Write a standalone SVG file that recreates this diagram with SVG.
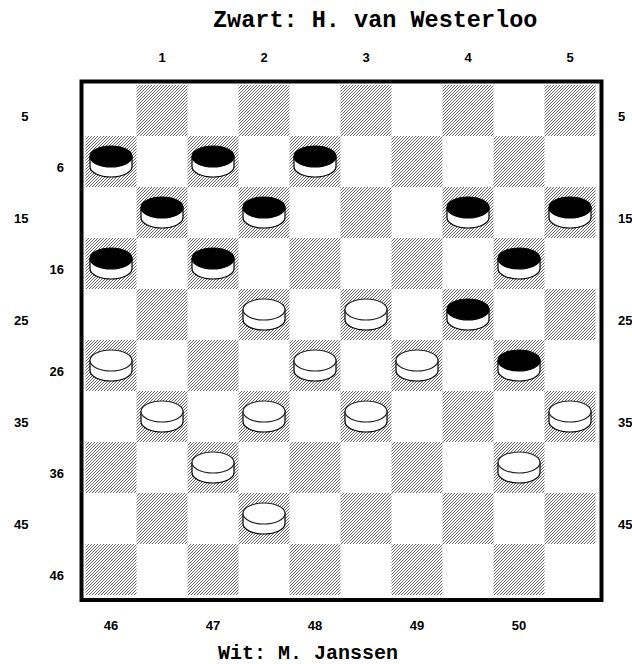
<svg xmlns="http://www.w3.org/2000/svg" xmlns:xlink="http://www.w3.org/1999/xlink" width="632" height="664" viewBox="0 0 632 664">
<style>
.lbl{font-family:"Liberation Sans",Arial,sans-serif;font-weight:bold;font-size:13px;fill:#000}
.ttl{font-family:"Liberation Mono","Courier New",monospace;font-weight:bold;fill:#000}
.dk{fill:url(#hatch)}
.side{fill:#fff;stroke:#000;stroke-width:1.2}
.topb{fill:#000;stroke:#000;stroke-width:1.2}
.topw{fill:#fff;stroke:#222;stroke-width:1.2}
</style>
<defs>
<pattern id="hatch" patternUnits="userSpaceOnUse" width="3" height="3">
<path d="M-1,1 L1,-1 M0,3 L3,0 M2,4 L4,2" stroke="#333" stroke-width="0.75"/>
</pattern>
<g id="bp">
<path class="side" d="M-21,-5 V5 A21,10.5 0 0 0 21,5 V-5 Z"/>
<ellipse class="topb" cx="0" cy="-5" rx="21" ry="10.5"/>
</g>
<g id="wp">
<path class="side" d="M-21,-5 V5 A21,10.5 0 0 0 21,5 V-5 Z"/>
<ellipse class="topw" cx="0" cy="-5" rx="21" ry="10.5"/>
</g>
</defs>
<rect width="632" height="664" fill="#fff"/>
<text class="ttl" x="213" y="27" font-size="23.5">Zwart: H. van Westerloo</text>
<text class="ttl" x="218" y="659" font-size="20">Wit: M. Janssen</text>
<g id="top-labels" class="lbl" text-anchor="middle">
<text x="162" y="62">1</text><text x="264" y="62">2</text><text x="366" y="62">3</text><text x="468" y="62">4</text><text x="570" y="62">5</text>
</g>
<g id="bottom-labels" class="lbl" text-anchor="middle">
<text x="111" y="630">46</text><text x="213" y="630">47</text><text x="315" y="630">48</text><text x="417" y="630">49</text><text x="519" y="630">50</text>
</g>
<g id="left-labels" class="lbl" text-anchor="end">
<text x="28.5" y="120.5">5</text><text x="64" y="171.5">6</text>
<text x="28.5" y="222.5">15</text><text x="64" y="273.5">16</text>
<text x="28.5" y="324.5">25</text><text x="64" y="375.5">26</text>
<text x="28.5" y="426.5">35</text><text x="64" y="477.5">36</text>
<text x="28.5" y="528.5">45</text><text x="64" y="579.5">46</text>
</g>
<g id="right-labels" class="lbl" text-anchor="start">
<text x="618" y="120.5">5</text><text x="618" y="222.5">15</text><text x="618" y="324.5">25</text><text x="618" y="426.5">35</text><text x="618" y="528.5">45</text>
</g>
<g id="board">
<rect x="81.5" y="81.5" width="520" height="518.5" fill="#fff" stroke="#000" stroke-width="4"/>
<g id="dark-squares">
<rect class="dk" x="136.5" y="85" width="51" height="51"/><rect class="dk" x="238.5" y="85" width="51" height="51"/><rect class="dk" x="340.5" y="85" width="51" height="51"/><rect class="dk" x="442.5" y="85" width="51" height="51"/><rect class="dk" x="544.5" y="85" width="51" height="51"/>
<rect class="dk" x="85.5" y="136" width="51" height="51"/><rect class="dk" x="187.5" y="136" width="51" height="51"/><rect class="dk" x="289.5" y="136" width="51" height="51"/><rect class="dk" x="391.5" y="136" width="51" height="51"/><rect class="dk" x="493.5" y="136" width="51" height="51"/>
<rect class="dk" x="136.5" y="187" width="51" height="51"/><rect class="dk" x="238.5" y="187" width="51" height="51"/><rect class="dk" x="340.5" y="187" width="51" height="51"/><rect class="dk" x="442.5" y="187" width="51" height="51"/><rect class="dk" x="544.5" y="187" width="51" height="51"/>
<rect class="dk" x="85.5" y="238" width="51" height="51"/><rect class="dk" x="187.5" y="238" width="51" height="51"/><rect class="dk" x="289.5" y="238" width="51" height="51"/><rect class="dk" x="391.5" y="238" width="51" height="51"/><rect class="dk" x="493.5" y="238" width="51" height="51"/>
<rect class="dk" x="136.5" y="289" width="51" height="51"/><rect class="dk" x="238.5" y="289" width="51" height="51"/><rect class="dk" x="340.5" y="289" width="51" height="51"/><rect class="dk" x="442.5" y="289" width="51" height="51"/><rect class="dk" x="544.5" y="289" width="51" height="51"/>
<rect class="dk" x="85.5" y="340" width="51" height="51"/><rect class="dk" x="187.5" y="340" width="51" height="51"/><rect class="dk" x="289.5" y="340" width="51" height="51"/><rect class="dk" x="391.5" y="340" width="51" height="51"/><rect class="dk" x="493.5" y="340" width="51" height="51"/>
<rect class="dk" x="136.5" y="391" width="51" height="51"/><rect class="dk" x="238.5" y="391" width="51" height="51"/><rect class="dk" x="340.5" y="391" width="51" height="51"/><rect class="dk" x="442.5" y="391" width="51" height="51"/><rect class="dk" x="544.5" y="391" width="51" height="51"/>
<rect class="dk" x="85.5" y="442" width="51" height="51"/><rect class="dk" x="187.5" y="442" width="51" height="51"/><rect class="dk" x="289.5" y="442" width="51" height="51"/><rect class="dk" x="391.5" y="442" width="51" height="51"/><rect class="dk" x="493.5" y="442" width="51" height="51"/>
<rect class="dk" x="136.5" y="493" width="51" height="51"/><rect class="dk" x="238.5" y="493" width="51" height="51"/><rect class="dk" x="340.5" y="493" width="51" height="51"/><rect class="dk" x="442.5" y="493" width="51" height="51"/><rect class="dk" x="544.5" y="493" width="51" height="51"/>
<rect class="dk" x="85.5" y="544" width="51" height="51"/><rect class="dk" x="187.5" y="544" width="51" height="51"/><rect class="dk" x="289.5" y="544" width="51" height="51"/><rect class="dk" x="391.5" y="544" width="51" height="51"/><rect class="dk" x="493.5" y="544" width="51" height="51"/>
</g>
</g>
<g id="black-pieces">
<use id="b6" xlink:href="#bp" x="111" y="161.5"/>
<use id="b7" xlink:href="#bp" x="213" y="161.5"/>
<use id="b8" xlink:href="#bp" x="315" y="161.5"/>
<use id="b11" xlink:href="#bp" x="162" y="212.5"/>
<use id="b12" xlink:href="#bp" x="264" y="212.5"/>
<use id="b14" xlink:href="#bp" x="468" y="212.5"/>
<use id="b15" xlink:href="#bp" x="570" y="212.5"/>
<use id="b16" xlink:href="#bp" x="111" y="263.5"/>
<use id="b17" xlink:href="#bp" x="213" y="263.5"/>
<use id="b20" xlink:href="#bp" x="519" y="263.5"/>
<use id="b24" xlink:href="#bp" x="468" y="314.5"/>
<use id="b30" xlink:href="#bp" x="519" y="365.5"/>
</g>
<g id="white-pieces">
<use id="w22" xlink:href="#wp" x="264" y="314.5"/>
<use id="w23" xlink:href="#wp" x="366" y="314.5"/>
<use id="w26" xlink:href="#wp" x="111" y="365.5"/>
<use id="w28" xlink:href="#wp" x="315" y="365.5"/>
<use id="w29" xlink:href="#wp" x="417" y="365.5"/>
<use id="w31" xlink:href="#wp" x="162" y="416.5"/>
<use id="w32" xlink:href="#wp" x="264" y="416.5"/>
<use id="w33" xlink:href="#wp" x="366" y="416.5"/>
<use id="w35" xlink:href="#wp" x="570" y="416.5"/>
<use id="w37" xlink:href="#wp" x="213" y="467.5"/>
<use id="w40" xlink:href="#wp" x="519" y="467.5"/>
<use id="w43" xlink:href="#wp" x="264" y="518.5"/>
</g>
</svg>
